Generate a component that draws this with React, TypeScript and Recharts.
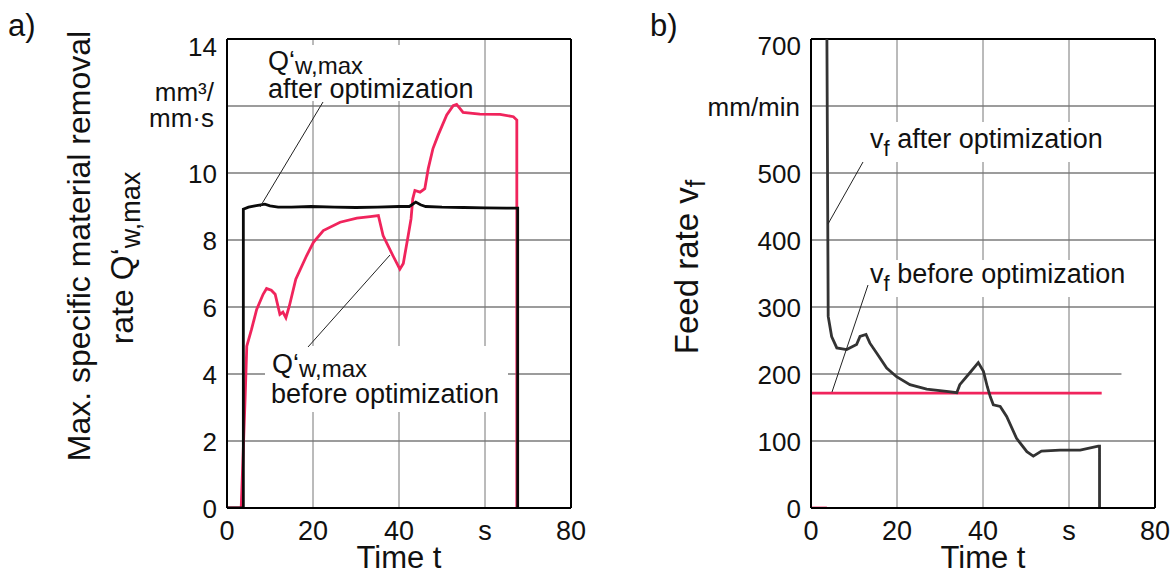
import React from "react";
import { LineChart, Line, XAxis, YAxis, ReferenceLine } from "recharts";

// ---------- data ----------
const xTicks = [0, 20, 40, 60, 80];
const xTickLabels = ["0", "20", "40", "s", "80"];

const qTicks = [0, 2, 4, 6, 8, 10, 12, 14];
const qUnitLines = ["mm³/", "mm·s"];
const vTicks = [0, 100, 200, 300, 400, 500, 600, 700];
const vUnit = "mm/min";

// a) Q'w,max before optimization (red)
const qBeforeT = [0, 3.3, 4.2, 4.6, 5.7, 6.9, 8.4, 9.2, 10.3, 11.2, 12.3, 13.0, 13.7, 14.5, 16.0, 18.5, 20.1, 22.4, 26.3, 30.2, 33.3, 35.2, 36.3, 38.6, 40.2, 41.0, 42.0, 42.8, 43.2, 43.7, 44.9, 46.0, 46.8, 47.9, 49.1, 51.1, 52.6, 53.4, 54.9, 58.8, 63.5, 66.6, 67.4, 67.4];
const qBeforeV = [0, 0, 3.23, 4.83, 5.33, 5.93, 6.38, 6.55, 6.5, 6.38, 5.78, 5.85, 5.68, 6.03, 6.83, 7.53, 7.93, 8.28, 8.53, 8.65, 8.7, 8.73, 8.13, 7.53, 7.13, 7.3, 8.03, 8.63, 9.23, 9.48, 9.43, 9.53, 10.13, 10.73, 11.13, 11.73, 12.01, 12.05, 11.81, 11.76, 11.75, 11.68, 11.58, 0];

// a) Q'w,max after optimization (black)
const qAfterT = [0, 3.8, 3.8, 5, 6.5, 8.8, 10, 11.9, 15, 19.6, 25, 30, 35, 40, 42.4, 43.9, 45, 46.2, 50, 55, 60, 65, 67.6, 67.6];
const qAfterV = [0, 0, 8.92, 8.98, 9.02, 9.07, 9.02, 8.98, 8.98, 9.0, 8.98, 8.97, 8.98, 9.0, 9.0, 9.13, 9.05, 9.0, 8.98, 8.97, 8.96, 8.95, 8.95, 0];

// b) vf after optimization (black)
const vAfterT = [3.7, 4.0, 4.8, 6.0, 8.3, 10.6, 11.4, 12.8, 13.7, 15.3, 17.6, 19.9, 23.0, 26.9, 31.5, 33.9, 34.6, 36.9, 38.9, 40.1, 41.0, 41.7, 42.4, 44.0, 45.5, 47.8, 50.2, 51.7, 53.6, 57.9, 62.6, 66.8, 67.1, 67.1];
const vAfterV = [700, 286, 256, 239, 236.5, 244, 256, 259, 246, 231, 209, 196, 184, 177.5, 174, 172, 184, 201.5, 217, 204, 181, 166, 154, 151.5, 136.5, 104, 84, 77.5, 85, 86.5, 86.5, 92.5, 92.5, 0];

// b) vf before optimization (red)
const vBeforeT = [0, 67.6];
const vBeforeV = [171.5, 171.5];
const vStartT = [0, 3.7];
const vStartV = [0, 0];

const zip = (t: number[], v: number[]) => t.map((x, i) => ({ t: x, v: v[i] }));

const FONT = "'Liberation Sans', Arial, sans-serif";
const RED = "#f0245c";

const XTick = (props: any) => {
  const { x, y, payload } = props;
  const idx = xTicks.indexOf(payload.value);
  return (
    <text x={x} y={y + 32} textAnchor="middle" fontSize={27} fontFamily={FONT} fill="#111">
      {idx >= 0 ? xTickLabels[idx] : payload.value}
    </text>
  );
};

const LeftYTick = (props: any) => {
  const { x, y, payload } = props;
  if (payload.value === 12) {
    return (
      <g>
        {qUnitLines.map((s, i) => (
          <text key={i} x={x - 13} y={y - 5 + i * 26} textAnchor="end" fontSize={26} fontFamily={FONT} fill="#111">
            {s}
          </text>
        ))}
      </g>
    );
  }
  const extra = payload.value === 14 ? 7 : 0;
  return (
    <text x={x - 10} y={y + 9.5 + extra} textAnchor="end" fontSize={26} fontFamily={FONT} fill="#111">
      {payload.value}
    </text>
  );
};

const RightYTick = (props: any) => {
  const { x, y, payload } = props;
  if (payload.value === 600) {
    return (
      <text x={x - 11} y={y + 9.5} textAnchor="end" fontSize={26} fontFamily={FONT} fill="#111">
        {vUnit}
      </text>
    );
  }
  const extra = payload.value === 700 ? 6 : 0;
  return (
    <text x={x - 10} y={y + 9.5 + extra} textAnchor="end" fontSize={26} fontFamily={FONT} fill="#111">
      {payload.value}
    </text>
  );
};

const HGRID = "#3a3a3a";
const VGRID = "#777";
const LW = 2.8;

export default function App() {
  return (
    <div style={{ position: "absolute", left: 0, top: 0, width: 1174, height: 575, background: "#fff" }}>
      <div style={{ position: "absolute", left: 0, top: 0 }}>
        <LineChart width={600} height={575} margin={{ top: 39, right: 29, bottom: 27, left: 0 }}>
          <XAxis type="number" dataKey="t" domain={[0, 80]} ticks={xTicks} tick={XTick} tickLine={false} tickSize={0} tickMargin={0} height={40} axisLine={{ stroke: "#000", strokeWidth: 2 }} allowDataOverflow />
          <YAxis type="number" domain={[0, 14]} ticks={qTicks} tick={LeftYTick} tickLine={false} tickSize={0} tickMargin={0} width={227} axisLine={{ stroke: "#000", strokeWidth: 2 }} allowDataOverflow interval={0} />
          {[2, 4, 6, 8, 10, 12].map((v) => (
            <ReferenceLine key={"h" + v} y={v} stroke={HGRID} strokeWidth={1.2} />
          ))}
          {[20, 40, 60].map((v) => (
            <ReferenceLine key={"v" + v} x={v} stroke={VGRID} strokeWidth={1} />
          ))}
          <ReferenceLine y={14} stroke="#000" strokeWidth={2} />
          <ReferenceLine x={80} stroke="#000" strokeWidth={2} />
          <Line data={zip(qBeforeT, qBeforeV)} dataKey="v" type="linear" stroke={RED} strokeWidth={LW} dot={false} activeDot={false} isAnimationActive={false} />
          <Line data={zip(qAfterT, qAfterV)} dataKey="v" type="linear" stroke="#0a0a0a" strokeWidth={LW} dot={false} activeDot={false} isAnimationActive={false} />
        </LineChart>
      </div>
      <div style={{ position: "absolute", left: 600, top: 0 }}>
        <LineChart width={574} height={575} margin={{ top: 39, right: 19, bottom: 27, left: 0 }}>
          <XAxis type="number" dataKey="t" domain={[0, 80]} ticks={xTicks} tick={XTick} tickLine={false} tickSize={0} tickMargin={0} height={40} axisLine={{ stroke: "#000", strokeWidth: 2 }} allowDataOverflow />
          <YAxis type="number" domain={[0, 700]} ticks={vTicks} tick={RightYTick} tickLine={false} tickSize={0} tickMargin={0} width={211} axisLine={{ stroke: "#000", strokeWidth: 2 }} allowDataOverflow interval={0} />
          {[100, 300, 400, 500, 600].map((v) => (
            <ReferenceLine key={"h" + v} y={v} stroke={HGRID} strokeWidth={1.2} />
          ))}
          <ReferenceLine segment={[{ x: 0, y: 200 }, { x: 72.2, y: 200 }]} stroke={HGRID} strokeWidth={1.2} />
          {[20, 40, 60].map((v) => (
            <ReferenceLine key={"v" + v} x={v} stroke={VGRID} strokeWidth={1} />
          ))}
          <ReferenceLine y={700} stroke="#000" strokeWidth={2} />
          <ReferenceLine x={80} stroke="#000" strokeWidth={2} />
          <Line data={zip(vStartT, vStartV)} dataKey="v" type="linear" stroke={RED} strokeWidth={LW} dot={false} activeDot={false} isAnimationActive={false} />
          <Line data={zip(vBeforeT, vBeforeV)} dataKey="v" type="linear" stroke={RED} strokeWidth={LW} dot={false} activeDot={false} isAnimationActive={false} />
          <Line data={zip(vAfterT, vAfterV)} dataKey="v" type="linear" stroke="#333" strokeWidth={LW} dot={false} activeDot={false} isAnimationActive={false} />
        </LineChart>
      </div>
      <svg width={1174} height={575} style={{ position: "absolute", left: 0, top: 0, pointerEvents: "none" }} fontFamily={FONT}>
        {/* panel labels */}
        <text x={8} y={36} fontSize={31} fill="#111">a)</text>
        <text x={650} y={36} fontSize={31} fill="#111">b)</text>

        {/* axis titles */}
        <text transform="translate(90,246) rotate(-90)" textAnchor="middle" fontSize={32} fill="#111">
          Max. specific material removal
        </text>
        <text transform="translate(133,258) rotate(-90)" textAnchor="middle" fontSize={32} fill="#111">
          rate Q‘<tspan fontSize={27} dy={7}>w,max</tspan>
        </text>
        <text transform="translate(698,267) rotate(-90)" textAnchor="middle" fontSize={33} fill="#111">
          Feed rate v<tspan fontSize={27} dy={7}>f</tspan>
        </text>
        <text x={399} y={568} textAnchor="middle" fontSize={31} fill="#111">Time t</text>
        <text x={983} y={568} textAnchor="middle" fontSize={31} fill="#111">Time t</text>

        {/* annotation boxes */}
        <rect x={258} y={45} width={224} height={56} fill="#fff" />
        <rect x={265} y={346} width={243} height={66} fill="#fff" />
        <rect x={860} y={122} width={258} height={40} fill="#fff" />
        <rect x={860} y={260} width={272} height={37} fill="#fff" />

        {/* annotations a) */}
        <text x={268} y={70} fontSize={27} fill="#111">
          Q‘<tspan fontSize={24} dy={4}>w,max</tspan>
        </text>
        <text x={268} y={98} fontSize={27} fill="#111">after optimization</text>
        <line x1={323} y1={102} x2={260} y2={207} stroke="#222" strokeWidth={1} />

        <text x={272} y={373} fontSize={27} fill="#111">
          Q‘<tspan fontSize={24} dy={4}>w,max</tspan>
        </text>
        <text x={271} y={403} fontSize={27} fill="#111">before optimization</text>
        <line x1={308} y1={347} x2={390} y2={255} stroke="#222" strokeWidth={1} />

        {/* annotations b) */}
        <text x={870} y={148} fontSize={27} fill="#111">
          v<tspan fontSize={22} dy={8}>f</tspan><tspan dy={-8}> after optimization</tspan>
        </text>
        <line x1={863} y1={162} x2={828} y2={224} stroke="#222" strokeWidth={1} />

        <text x={870} y={283} fontSize={27} fill="#111">
          v<tspan fontSize={22} dy={8}>f</tspan><tspan dy={-8}> before optimization</tspan>
        </text>
        <line x1={868} y1={285} x2={832} y2={392} stroke="#222" strokeWidth={1} />
      </svg>
    </div>
  );
}
